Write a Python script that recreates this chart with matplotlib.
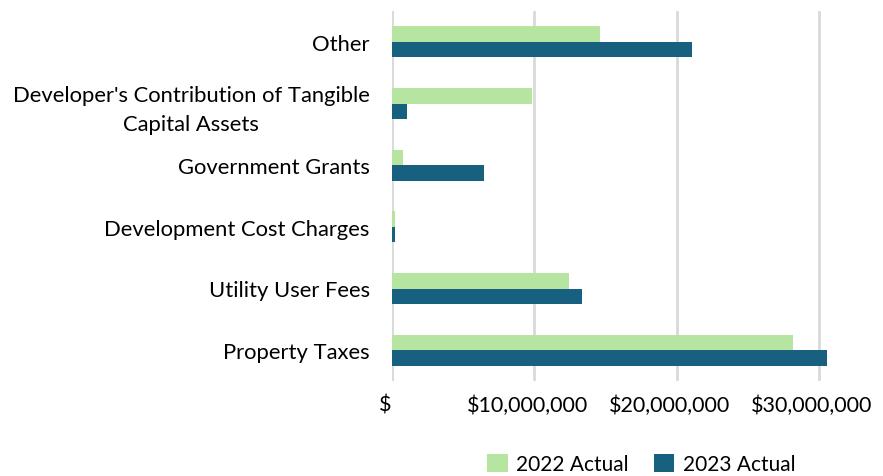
import numpy as np
import matplotlib.pyplot as plt
import matplotlib.transforms as mtransforms
from matplotlib.ticker import FuncFormatter

categories = ["Property Taxes", "Utility User Fees", "Development Cost Charges",
              "Government Grants", "Developer's Contribution of Tangible\nCapital Assets", "Other"]
actual_2022 = [28.2e6, 12.45e6, 0.2e6, 0.8e6, 9.85e6, 14.6e6]
actual_2023 = [30.55e6, 13.35e6, 0.2e6, 6.45e6, 1.05e6, 21.05e6]
xticks = [0, 10e6, 20e6, 30e6]

plt.rcParams['font.family'] = ['Lato', 'DejaVu Sans']

W, H = 883, 477
fig = plt.figure(figsize=(W / 100, H / 100), dpi=100)
ax = fig.add_axes([392 / W, 1 - 382 / H, (883 - 392) / W, (382 - 12) / H])

y = np.arange(len(categories))
h = 0.25
ax.barh(y + h / 2, actual_2022, height=h, color='#b5e5a0', label='2022 Actual', zorder=3)
ax.barh(y - h / 2, actual_2023, height=h, color='#176080', label='2023 Actual', zorder=3)

ax.set_ylim(-0.5, len(categories) - 0.5)
ax.set_xlim(0, (883 - 392) / 142.3 * 10e6)
ax.set_yticks(y)
ax.set_yticklabels(categories, fontsize=15.8, multialignment='center', linespacing=1.55)
ax.set_xticks(xticks)
ax.xaxis.set_major_formatter(FuncFormatter(lambda v, p: '$' if v == 0 else f'${v:,.0f}'))
ax.tick_params(axis='x', labelsize=15.5, length=0, pad=10)
ax.tick_params(axis='y', length=0, pad=16)
ax.grid(axis='x', color='#d9d9d9', linewidth=2, zorder=0)
for s in ax.spines.values():
    s.set_visible(False)

# excel puts the axis labels a little left of the gridlines
shift = mtransforms.ScaledTranslation(-7 / 100, 0, fig.dpi_scale_trans)
for lbl in ax.get_xticklabels():
    lbl.set_transform(lbl.get_transform() + shift)

fig.legend(loc='center', bbox_to_anchor=(641 / W, 1 - 465 / H), ncol=2, frameon=False,
           fontsize=15, handlelength=1.0, handleheight=1.0, handletextpad=0.4,
           columnspacing=1.2)

fig.savefig('out.png', dpi=100)
